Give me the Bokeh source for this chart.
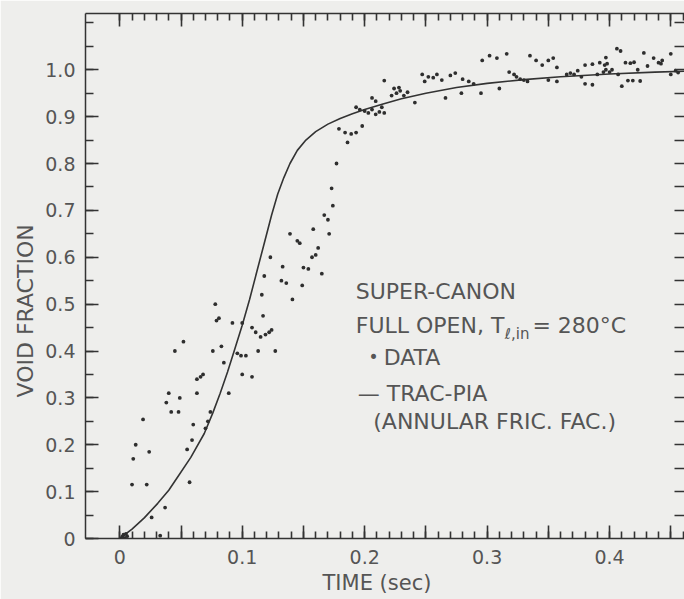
import math
from bokeh.plotting import figure
from bokeh.models import Range1d, LinearAxis, FixedTicker, Label, Title
from bokeh.embed import file_html
from bokeh.resources import INLINE

# ---- TRAC-PIA calculated curve (time s, void fraction) ----
curve_t = [0.0, 0.003, 0.010, 0.020, 0.031, 0.040, 0.047, 0.058, 0.069, 0.076,
           0.082, 0.088, 0.094, 0.100, 0.106, 0.112, 0.118, 0.124, 0.129, 0.134,
           0.139, 0.145, 0.152, 0.160, 0.170, 0.180, 0.190, 0.200, 0.215, 0.230,
           0.250, 0.275, 0.300, 0.330, 0.360, 0.400, 0.437, 0.462]
curve_v = [0.0, 0.006, 0.020, 0.044, 0.075, 0.103, 0.130, 0.173, 0.224, 0.268,
           0.310, 0.355, 0.405, 0.455, 0.510, 0.570, 0.630, 0.690, 0.735, 0.770,
           0.800, 0.828, 0.850, 0.868, 0.884, 0.896, 0.906, 0.915, 0.927, 0.938,
           0.950, 0.962, 0.971, 0.979, 0.985, 0.991, 0.995, 0.997]

# ---- measured data points ----
data_t = [0.002, 0.004, 0.006, 0.003, 0.005, 0.033,
          0.026, 0.037, 0.010, 0.022, 0.057, 0.011, 0.013, 0.024, 0.055, 0.059,
          0.019, 0.060, 0.042, 0.048, 0.038, 0.072, 0.074, 0.070,
          0.040, 0.049, 0.063, 0.045, 0.052, 0.063, 0.066, 0.068, 0.078, 0.079,
          0.081, 0.076, 0.083, 0.085, 0.089, 0.092, 0.096, 0.099, 0.103, 0.100,
          0.108, 0.100, 0.108, 0.111, 0.113, 0.116, 0.117, 0.118, 0.115, 0.119,
          0.122, 0.124, 0.123, 0.127, 0.133, 0.132, 0.136, 0.141, 0.139, 0.145,
          0.147, 0.149, 0.150, 0.154, 0.158, 0.157, 0.160, 0.162, 0.165, 0.167,
          0.170, 0.171, 0.174,
          0.173, 0.177, 0.179, 0.184, 0.186, 0.189, 0.193, 0.198,
          0.193, 0.196, 0.200, 0.203, 0.206, 0.209, 0.212, 0.214, 0.216,
          0.206, 0.209, 0.216, 0.222, 0.226, 0.229, 0.232, 0.235, 0.224, 0.228, 0.241,
          0.247, 0.249, 0.252, 0.256, 0.259, 0.263, 0.266, 0.279, 0.270, 0.274,
          0.280, 0.285, 0.289,
          0.295, 0.296, 0.302, 0.308, 0.310, 0.316, 0.318, 0.322, 0.324, 0.327,
          0.330, 0.333,
          0.335, 0.340, 0.345, 0.350, 0.354, 0.357, 0.350, 0.357,
          0.365, 0.368, 0.371, 0.374, 0.377, 0.380, 0.386, 0.392, 0.396, 0.397,
          0.380, 0.386,
          0.397, 0.398, 0.409, 0.413, 0.417, 0.420, 0.390, 0.395, 0.400, 0.402,
          0.415, 0.419, 0.425, 0.423, 0.428, 0.431, 0.436, 0.440, 0.442, 0.443,
          0.450, 0.450, 0.454, 0.456, 0.406, 0.407, 0.410]
data_v = [0.004, 0.001, 0.005, 0.008, 0.010, 0.006,
          0.045, 0.066, 0.115, 0.115, 0.120, 0.170, 0.200, 0.185, 0.190, 0.210,
          0.254, 0.243, 0.270, 0.270, 0.290, 0.250, 0.270, 0.235,
          0.310, 0.300, 0.310, 0.400, 0.420, 0.340, 0.345, 0.350, 0.500, 0.465,
          0.470, 0.400, 0.410, 0.375, 0.310, 0.460, 0.395, 0.390, 0.390, 0.350,
          0.345, 0.460, 0.450, 0.440, 0.400, 0.520, 0.475, 0.560, 0.430, 0.435,
          0.440, 0.445, 0.600, 0.400, 0.580, 0.550, 0.545, 0.510, 0.650, 0.635,
          0.630, 0.540, 0.578, 0.575, 0.660, 0.600, 0.605, 0.620, 0.565, 0.690,
          0.680, 0.650, 0.710,
          0.747, 0.800, 0.874, 0.866, 0.845, 0.863, 0.866, 0.880,
          0.920, 0.915, 0.912, 0.908, 0.915, 0.905, 0.910, 0.920, 0.908,
          0.940, 0.933, 0.977, 0.945, 0.950, 0.955, 0.945, 0.952, 0.960, 0.962, 0.930,
          0.990, 0.975, 0.985, 0.983, 0.990, 0.978, 0.940, 0.950, 0.988, 0.993,
          0.980, 0.975, 0.970,
          0.950, 1.020, 1.030, 1.025, 0.960, 1.034, 0.995, 0.990, 0.985, 0.980,
          0.978, 0.975,
          1.030, 1.020, 1.010, 1.020, 1.025, 1.005, 0.978, 0.975,
          0.990, 0.993, 0.990, 0.998, 0.985, 1.010, 1.012, 1.015, 1.010, 1.000,
          0.970, 0.968,
          1.026, 1.013, 1.040, 1.015, 1.014, 1.016, 0.990, 0.995, 0.995, 1.000,
          0.977, 0.977, 0.976, 1.000, 1.036, 1.008, 1.025, 1.015, 1.013, 1.020,
          1.034, 0.990, 0.998, 0.994, 1.045, 0.990, 0.965]

# ---- tick labels ----
x_ticks = [0.0, 0.1, 0.2, 0.3, 0.4]
x_tick_labels = ["0", "0.1", "0.2", "0.3", "0.4"]
y_ticks = [0.0, 0.1, 0.2, 0.3, 0.4, 0.5, 0.6, 0.7, 0.8, 0.9, 1.0]
y_tick_labels = ["0", "0.1", "0.2", "0.3", "0.4", "0.5", "0.6", "0.7", "0.8", "0.9", "1.0"]

BG = "#eeeeec"
INK = "#333333"
TXT = "#555555"
FONT = "DejaVu Sans"

p = figure(width=684, height=599,
           x_range=Range1d(-0.028, 0.4612), y_range=Range1d(0, 1.12),
           output_backend="svg", toolbar_location=None,
           x_axis_location=None, y_axis_location=None,
           min_border_left=85, min_border_right=0,
           min_border_top=13, min_border_bottom=61,
           background_fill_color=BG, border_fill_color=BG,
           outline_line_color=None)
p.grid.visible = False

x_major = [round(0.05 * i, 2) for i in range(10)]
x_minor = [round(0.01 * i, 2) for i in range(47)]
y_minor = [round(0.05 * i, 2) for i in range(23)]

xl = dict(zip(x_ticks, x_tick_labels))
yl = dict(zip(y_ticks, y_tick_labels))


def style(ax, tick_in, minor_in):
    ax.axis_line_color = INK
    ax.axis_line_width = 1.5
    ax.major_tick_line_color = INK
    ax.minor_tick_line_color = INK
    ax.major_tick_line_width = 1.6
    ax.minor_tick_line_width = 1.6
    ax.major_tick_in = tick_in
    ax.major_tick_out = 0
    ax.minor_tick_in = minor_in
    ax.minor_tick_out = 0
    ax.major_label_text_font = FONT
    ax.major_label_text_color = TXT


bottom = LinearAxis(ticker=FixedTicker(ticks=x_major, minor_ticks=x_minor),
                    major_label_overrides={t: xl.get(t, "") for t in x_major})
style(bottom, 13, 7)
bottom.major_label_text_font_size = "19px"
bottom.major_label_standoff = 11
p.add_layout(bottom, "below")

top = LinearAxis(ticker=FixedTicker(ticks=x_major, minor_ticks=x_minor),
                 major_label_overrides={t: "" for t in x_major})
style(top, 13, 7)
top.major_label_text_font_size = "0px"
top.major_label_standoff = 0
p.add_layout(top, "above")

left = LinearAxis(ticker=FixedTicker(ticks=y_ticks, minor_ticks=y_minor),
                  major_label_overrides=yl)
style(left, 13, 8)
left.major_label_text_font_size = "19px"
left.major_label_standoff = 10
p.add_layout(left, "left")

right = LinearAxis(ticker=FixedTicker(ticks=y_minor[1:], minor_ticks=[]),
                   major_label_overrides={t: "" for t in y_minor[1:]})
style(right, 10, 0)
right.axis_line_color = None
right.major_label_text_font_size = "0px"
right.major_label_standoff = 0
p.add_layout(right, "right")

# ---- axis titles (as side titles so they sit outside the frame) ----
p.add_layout(Title(text="TIME (sec)", align="left", offset=237, standoff=7,
                   vertical_align="middle",
                   text_font=FONT, text_font_size="21px", text_font_style="normal",
                   text_color=TXT), "below")
p.add_layout(Title(text="VOID FRACTION", align="left", offset=141, standoff=10,
                   text_font=FONT, text_font_size="22px", text_font_style="normal",
                   text_color=TXT), "left")

# ---- data ----
p.line(curve_t, curve_v, line_width=1.6, line_color=INK)
p.scatter(data_t, data_v, marker="circle", size=3.8, fill_color="#2e2e2e", line_color=None)

# ---- annotation block ----
ann = dict(text_font=FONT, text_font_size="22px", text_color=TXT,
           text_align="left", text_baseline="middle")
p.add_layout(Label(x=0.1927, y=0.527, text="SUPER-CANON", **ann))
p.add_layout(Label(x=0.1927, y=0.454, text="FULL OPEN, T", **ann))
p.add_layout(Label(x=0.3145, y=0.436, text="ℓ,in", text_font=FONT, text_font_size="15px",
                   text_color=TXT, text_align="left", text_baseline="middle"))
p.add_layout(Label(x=0.3370, y=0.454, text="= 280°C", **ann))
p.add_layout(Label(x=0.2073, y=0.387, text="•", text_font=FONT, text_font_size="17px",
                   text_color=TXT, text_align="center", text_baseline="middle"))
p.add_layout(Label(x=0.2155, y=0.387, text="DATA", **ann))
p.add_layout(Label(x=0.1943, y=0.310, text="— TRAC-PIA", **ann))
p.add_layout(Label(x=0.2070, y=0.250, text="(ANNULAR FRIC. FAC.)", **ann))

open("out.html", "w").write(file_html(p, INLINE))
